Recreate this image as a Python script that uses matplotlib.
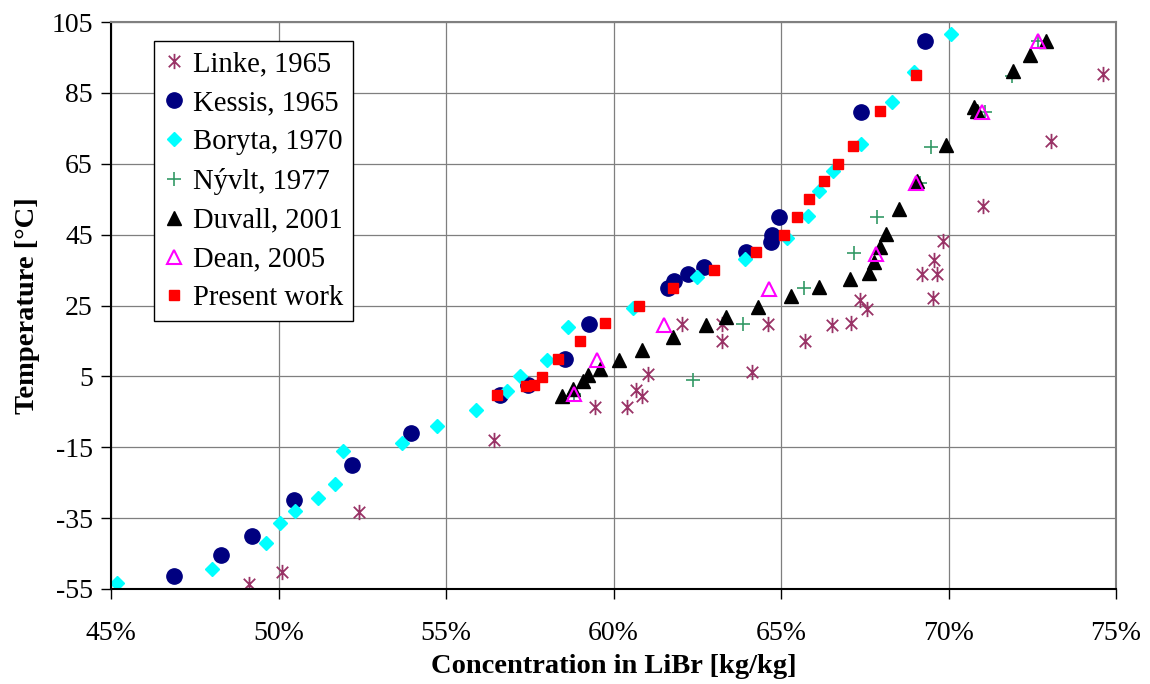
import matplotlib
matplotlib.use("Agg")
import matplotlib.pyplot as plt
from matplotlib.path import Path

plt.rcParams['font.family'] = ['Liberation Serif', 'DejaVu Serif']

# ---- data (concentration in %, temperature in °C) ----
linke_x = [49.12, 50.1, 52.4, 56.44, 59.46, 60.39, 60.67, 60.84, 61.04, 62.05, 63.23, 63.23,
           64.14, 64.62, 65.72, 66.53, 67.08, 67.36, 67.56, 69.2, 69.58, 69.67, 69.55, 69.85,
           71.04, 73.06, 74.62]
linke_t = [-53.6, -50.3, -33.2, -13.0, -3.6, -3.6, 1.2, -0.4, 5.8, 19.8, 19.8, 15.1,
           6.2, 19.8, 15.1, 19.6, 20.1, 26.6, 24.1, 33.9, 37.7, 33.9, 27.1, 43.3,
           53.0, 71.3, 90.3]

kessis_x = [46.87, 48.28, 49.2, 50.47, 52.18, 53.96, 56.6, 57.45, 58.55, 59.28, 61.62, 61.8,
            62.23, 62.71, 63.97, 64.69, 64.74, 64.94, 67.39, 69.3]
kessis_t = [-51.3, -45.4, -40.0, -29.9, -20.0, -10.9, -0.3, 2.5, 9.8, 19.8, 29.9, 32.0,
            33.9, 35.8, 40.0, 42.8, 45.0, 50.0, 79.7, 99.6]

boryta_x = [45.17, 48.0, 49.62, 50.05, 50.49, 51.17, 51.69, 51.94, 53.68, 54.74, 55.9, 56.81,
            57.21, 58.02, 58.65, 60.57, 62.48, 63.94, 65.17, 65.82, 66.14, 66.54, 67.38,
            68.32, 68.98, 70.07]
boryta_t = [-53.4, -49.4, -42.1, -36.5, -33.0, -29.2, -25.4, -16.1, -13.7, -9.0, -4.6, 1.0,
            5.0, 9.7, 18.9, 24.4, 33.0, 38.0, 44.0, 50.2, 57.2, 63.0, 70.7,
            82.3, 91.0, 101.5]

nyvlt_x = [58.83, 62.38, 63.87, 65.69, 67.19, 67.87, 69.15, 69.48, 71.09, 71.89, 72.66]
nyvlt_t = [0.0, 3.9, 19.8, 29.9, 39.7, 49.9, 59.5, 69.6, 79.5, 89.8, 99.5]

duvall_x = [58.45, 58.8, 59.08, 59.25, 59.6, 60.15, 60.84, 61.77, 62.75, 63.36, 64.3, 65.29,
            66.14, 67.06, 67.64, 67.78, 67.96, 68.13, 68.52, 69.05, 69.92, 70.75, 70.85,
            71.93, 72.43, 72.91]
duvall_t = [-0.5, 1.5, 3.6, 5.3, 7.0, 9.7, 12.5, 16.1, 19.6, 21.7, 24.5, 27.6,
            30.2, 32.5, 34.1, 37.4, 41.4, 45.2, 52.2, 60.0, 70.4, 81.0, 80.0,
            91.2, 95.6, 99.5]

dean_x = [58.83, 59.5, 61.5, 64.65, 67.84, 69.03, 71.0, 72.68]
dean_t = [0.0, 9.5, 19.6, 29.7, 39.6, 59.5, 79.5, 99.5]

present_x = [56.51, 57.39, 57.64, 57.88, 58.33, 59.0, 59.76, 60.77, 61.77, 63.0, 64.25, 65.09,
             65.49, 65.84, 66.28, 66.7, 67.14, 67.96, 69.02]
present_t = [-0.3, 2.2, 2.7, 4.8, 10.0, 15.0, 20.0, 25.0, 30.0, 35.0, 40.0, 45.0,
             50.0, 55.0, 60.0, 65.0, 70.0, 80.0, 90.0]

x_ticks = [45, 50, 55, 60, 65, 70, 75]
x_ticklabels = ['45%', '50%', '55%', '60%', '65%', '70%', '75%']
y_ticks = [-55, -35, -15, 5, 25, 45, 65, 85, 105]
y_ticklabels = ['-55', '-35', '-15', '5', '25', '45', '65', '85', '105']

# asterisk marker: an "x" plus a vertical stroke
star_path = Path([(0, -1), (0, 1), (-0.75, -0.75), (0.75, 0.75), (-0.75, 0.75), (0.75, -0.75)],
                 [Path.MOVETO, Path.LINETO, Path.MOVETO, Path.LINETO, Path.MOVETO, Path.LINETO])

# ---- figure ----
fig = plt.figure(figsize=(11.5, 6.84), dpi=100)
ax = fig.add_axes([111/1150, 1 - 589/684, (1116-111)/1150, (589-22)/684])

ax.plot(linke_x, linke_t, ls='none', marker=star_path, ms=11, mew=1.3,
        mfc='none', color='#993366', label='Linke, 1965')
ax.plot(kessis_x, kessis_t, ls='none', marker='o', ms=11, color='#000080',
        mec='#000080', label='Kessis, 1965')
ax.plot(boryta_x, boryta_t, ls='none', marker='D', ms=7, color='#00FFFF',
        mec='#00FFFF', label='Boryta, 1970')
ax.plot(nyvlt_x, nyvlt_t, ls='none', marker='+', ms=10, mew=1.2, color='#339966',
        label='Nývlt, 1977')
ax.plot(duvall_x, duvall_t, ls='none', marker='^', ms=10, color='black',
        mec='black', label='Duvall, 2001')
ax.plot(dean_x, dean_t, ls='none', marker='^', ms=10, mfc='none', mec='#FF00FF',
        mew=1.5, label='Dean, 2005')
ax.plot(present_x, present_t, ls='none', marker='s', ms=7, color='#FF0000',
        mec='#FF0000', label='Present work')

ax.set_xlim(45, 75)
ax.set_ylim(-55, 105)
ax.set_xticks(x_ticks)
ax.set_xticklabels(x_ticklabels)
ax.set_yticks(y_ticks)
ax.set_yticklabels(y_ticklabels)
ax.tick_params(axis='both', direction='out', length=7, width=1, labelsize=20,
               colors='black', pad=6)
ax.tick_params(axis='x', pad=16)
ax.grid(True, color='#7f7f7f', lw=0.9)
ax.set_axisbelow(True)

for s in ['left', 'bottom']:
    ax.spines[s].set_color('black')
    ax.spines[s].set_linewidth(1.5)
for s in ['top', 'right']:
    ax.spines[s].set_color('#808080')
    ax.spines[s].set_linewidth(1.5)

ax.set_xlabel('Concentration in LiBr [kg/kg]', fontsize=20.5, fontweight='bold', labelpad=6)
ax.set_ylabel('Temperature [°C]', fontsize=20.5, fontweight='bold', labelpad=8)

leg = ax.legend(loc='upper left', bbox_to_anchor=((154 - 111) / 1005, 1 - (41 - 22) / 567),
                borderaxespad=0, fontsize=20.6, frameon=True, fancybox=False,
                edgecolor='black', framealpha=1, handlelength=0.7, handletextpad=0.3,
                labelspacing=0.45, borderpad=0.35, numpoints=1)
leg.get_frame().set_linewidth(1.0)

fig.savefig('out.png', dpi=100)
